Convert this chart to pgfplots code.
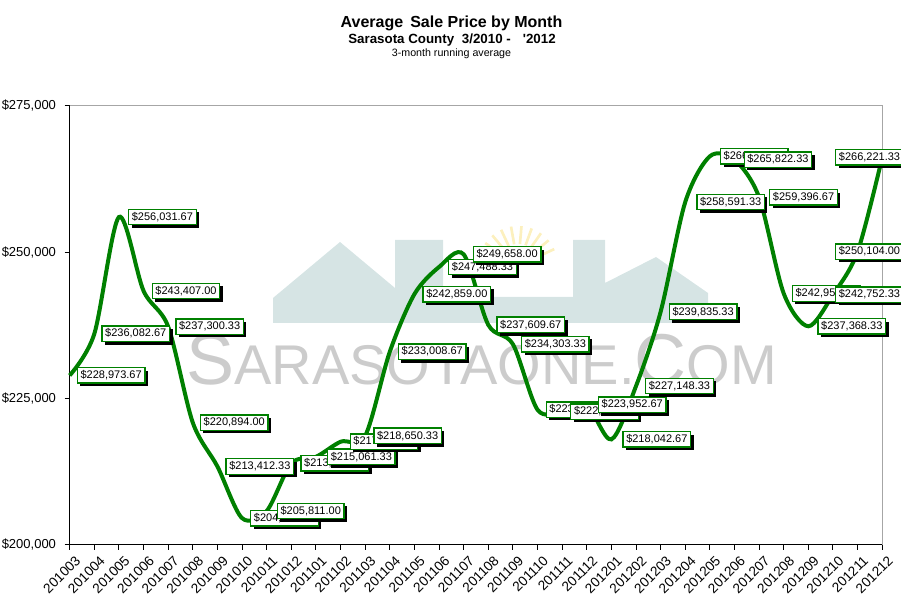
\documentclass[border=0pt]{standalone}
\usepackage{pgfplots}
\pgfplotsset{compat=1.18}
\usepackage{pgfplotstable}
\usepackage{fontspec}
\setmainfont{Liberation Sans}
\usetikzlibrary{shadows}
\definecolor{lgreen}{RGB}{0,128,0}
\definecolor{wmteal}{RGB}{214,228,228}
\definecolor{wmgray}{RGB}{204,204,204}
\definecolor{wmsun}{RGB}{252,240,190}

\pgfplotstableread{
i y dx lab
0 228973.67 7 228,973.67
1 236082.67 7 236,082.67
2 256031.67 9 256,031.67
3 243407.00 8 243,407.00
4 237300.33 7 237,300.33
5 220894.00 7 220,894.00
6 213412.33 8 213,412.33
7 204590.33 8 204,590.33
8 205811.00 10 205,811.00
9 213948.33 9 213,948.33
10 215061.33 11 215,061.33
11 217640.67 9 217,640.67
12 218650.33 8 218,650.33
13 233008.67 8 233,008.67
14 242859.00 8 242,859.00
15 247488.33 9 247,488.33
16 249658.00 9 249,658.00
17 237609.67 8 237,609.67
18 234303.33 8 234,303.33
19 223105.67 8 223,105.67
20 222781.00 8 222,781.00
21 223952.67 11 223,952.67
22 218042.67 11 218,042.67
23 227148.33 9 227,148.33
24 239835.33 8 239,835.33
25 258591.33 11 258,591.33
26 266412.67 10 266,412.67
27 265822.33 9 265,822.33
28 259396.67 10 259,396.67
29 242956.33 8 242,956.33
30 237368.33 9 237,368.33
31 242752.33 2 242,752.33
32 250104.00 -22.6 250,104.00
33 266221.33 -47.2 266,221.33
}\datatab

\begin{document}
\begin{tikzpicture}
\path[use as bounding box] (0pt,0pt) rectangle (675.75pt,458.25pt);
\begin{scope}[x=0.75pt,y=0.75pt]
% watermark sun rays
\foreach \a in {25,40,...,160} {
  \draw[wmsun, line width=2pt] (518,345) ++(\a:22) -- ++(\a:18);
}
% watermark house
\fill[wmteal] (273,288) -- (273,313) -- (340,369) -- (395,323) -- (395,371) -- (443,371) -- (443,314) -- (573,314) -- (573,371) -- (605,371) -- (605,328) -- (656,354) -- (708,318) -- (708,288) -- cycle;
\node[anchor=base west, text=wmgray, inner sep=0pt] at (186,226) {\fontsize{54}{54}\selectfont S\fontsize{42}{42}\selectfont ARASOTAONE.\fontsize{54}{54}\selectfont C\fontsize{42}{42}\selectfont OM};
% titles
\node[font=\fontsize{12}{14}\selectfont\bfseries] at (451.5,588) {Average\hspace{2pt} Sale Price by Month};
\node[font=\fontsize{10}{12}\selectfont\bfseries] at (452,571) {Sarasota County\hspace{3pt} 3/2010 -\hspace{9pt}\textquotesingle 2012};
\node[font=\fontsize{8}{10}\selectfont] at (451.5,557) {3-month running average};
\end{scope}
\begin{axis}[
  at={(52.275pt,49.5pt)}, anchor=south west,
  scale only axis, width=609.4pt, height=329.25pt,
  xmin=0, xmax=33, ymin=200000, ymax=275000,
  axis x line*=bottom, axis y line*=left,
  axis line style={black, line width=0.75pt},
  tick align=outside, major tick length=3.75pt,
  tick style={black, line width=0.75pt},
  xtick={0,...,33},
  xticklabels={201003,201004,201005,201006,201007,201008,201009,201010,201011,201012,201101,201102,201103,201104,201105,201106,201107,201108,201109,201110,201111,201112,201201,201202,201203,201204,201205,201206,201207,201208,201209,201210,201211,201212},
  xticklabel style={rotate=45, anchor=north east, font=\fontsize{10.25}{10}\selectfont, inner sep=1pt, yshift=-4pt, xshift=1pt},
  ytick={200000,225000,250000,275000},
  yticklabels={{\$200,000},{\$225,000},{\$250,000},{\$275,000}},
  yticklabel style={font=\fontsize{9.75}{10}\selectfont, xshift=-3pt},
  scaled y ticks=false,
  clip=false,
]
\addplot[lgreen, line width=3pt, smooth, tension=0.5] table[x=i,y=y]{\datatab};
\draw[gray!70, line width=0.75pt] (rel axis cs:0,1) -- (rel axis cs:1,1) -- (rel axis cs:1,0);
\addplot[draw=none,
  point meta=explicit symbolic,
  visualization depends on={\thisrow{dx}\as\dx},
  nodes near coords={\$\pgfplotspointmeta},
  nodes near coords style={anchor=west, xshift=\dx*0.75pt,
    font=\fontsize{8.25}{9}\selectfont, fill=white, draw=lgreen, line width=1pt,
    inner xsep=2.4pt, inner ysep=2.2pt, text height=6pt, text depth=1.2pt,
    drop shadow={shadow xshift=2.25pt, shadow yshift=-2.25pt, fill=black, opacity=1}},
] table[x=i,y=y,meta=lab]{\datatab};
\end{axis}
\end{tikzpicture}
\end{document}
